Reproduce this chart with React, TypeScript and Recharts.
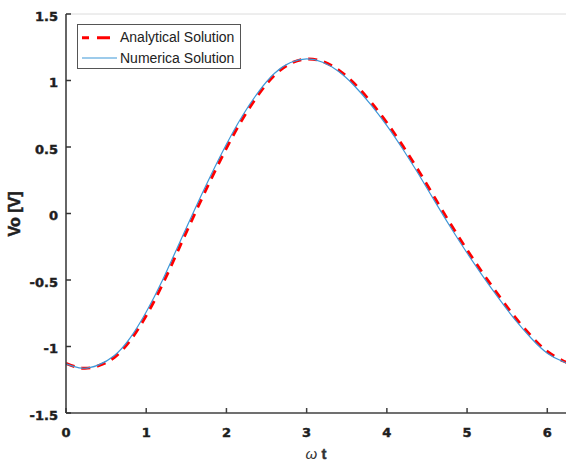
import React from 'react';
import { LineChart, Line, XAxis, YAxis, ReferenceLine, Legend } from 'recharts';

const wt = [0, 0.2, 0.4, 0.6, 0.8, 1.0, 1.2, 1.4, 1.6, 1.8, 2.0, 2.2, 2.4, 2.6, 2.8, 3.0, 3.2, 3.4, 3.6, 3.8, 4.0, 4.2, 4.4, 4.6, 4.8, 5.0, 5.2, 5.4, 5.6, 5.8, 6.0, 6.2, 6.2832];
const analytical = [-1.127, -1.163, -1.146, -1.083, -0.955, -0.767, -0.536, -0.273, -0.008, 0.249, 0.492, 0.71, 0.895, 1.041, 1.128, 1.162, 1.143, 1.078, 0.973, 0.838, 0.682, 0.506, 0.316, 0.114, -0.085, -0.274, -0.453, -0.622, -0.782, -0.922, -1.038, -1.109, -1.126];
const numerical = [-1.13, -1.163, -1.14, -1.07, -0.935, -0.74, -0.505, -0.24, 0.025, 0.28, 0.52, 0.735, 0.915, 1.055, 1.135, 1.162, 1.137, 1.067, 0.957, 0.819, 0.661, 0.483, 0.291, 0.089, -0.109, -0.297, -0.474, -0.642, -0.8, -0.938, -1.05, -1.115, -1.13];
const xTicks = [0, 1, 2, 3, 4, 5, 6];
const yTicks = [-1.5, -1, -0.5, 0, 0.5, 1, 1.5];
const seriesNames = ['Analytical Solution', 'Numerica Solution'];

const data = wt.map((x, i) => ({ wt: x, analytical: analytical[i], numerical: numerical[i] }));

const tickFont = '"DejaVu Sans", sans-serif';
const sansFont = '"Liberation Sans", Arial, sans-serif';

const XTick = (props: any) => {
  const { x, y, payload } = props;
  return (
    <text x={x} y={y + 24} textAnchor="middle" fontFamily={tickFont} fontWeight="bold" fontSize={13} fill="#1e1e1e" stroke="#1e1e1e" strokeWidth={0.45}>
      {payload.value}
    </text>
  );
};

const YTick = (props: any) => {
  const { x, y, payload } = props;
  return (
    <text x={x} y={y + 6.6} textAnchor="end" fontFamily={tickFont} fontWeight="bold" fontSize={13} fill="#1e1e1e" stroke="#1e1e1e" strokeWidth={0.45}>
      {payload.value}
    </text>
  );
};

const YLabel = () => (
  <text x={20} y={214} transform="rotate(-90 20 214)" textAnchor="middle" fontFamily={sansFont} fontWeight="bold" fontSize={16} fill="#1e1e1e" stroke="#1e1e1e" strokeWidth={0.5}>
    Vo [V]
  </text>
);

const XLabel = () => (
  <text x={316} y={459} textAnchor="middle" fontFamily={sansFont} fontSize={15} fill="#333">
    <tspan fontStyle="italic">ω</tspan>
    <tspan fontWeight="bold" stroke="#333" strokeWidth={0.4}> t</tspan>
  </text>
);

const renderLegend = () => (
  <svg width={164} height={45} style={{ display: 'block' }}>
    <rect x={0.5} y={0.5} width={163} height={44} fill="#fff" stroke="#555" strokeWidth={1} />
    <line x1={5} y1={13.7} x2={33} y2={13.7} stroke="#ff0000" strokeWidth={3} strokeDasharray="7 8 13 100" />
    <line x1={5} y1={34} x2={40} y2={34} stroke="#3d97d8" strokeWidth={1.2} />
    <text x={43} y={18.3} fontFamily={sansFont} fontSize={14} fill="#222">{seriesNames[0]}</text>
    <text x={43} y={39.3} fontFamily={sansFont} fontSize={14} fill="#222">{seriesNames[1]}</text>
  </svg>
);

export default function App() {
  return (
    <div style={{ position: 'absolute', left: 0, top: 0, width: 566, height: 464, overflow: 'hidden', background: '#fff' }}>
      <LineChart width={580} height={464} data={data} margin={{ top: 14, right: 10, bottom: 0, left: 0 }}>
        <ReferenceLine y={1.5} stroke="#dcdcdc" strokeWidth={1} ifOverflow="visible" />
        <XAxis
          type="number"
          dataKey="wt"
          domain={[0, 6.2832]}
          ticks={xTicks}
          allowDataOverflow
          height={51}
          tickSize={-5}
          tickMargin={5}
          stroke="#404040"
          strokeWidth={1.5}
          tick={<XTick />}
          label={<XLabel />}
        />
        <YAxis
          type="number"
          domain={[-1.5, 1.5]}
          ticks={yTicks}
          allowDataOverflow
          width={66}
          tickSize={-5}
          tickMargin={13}
          stroke="#333"
          strokeWidth={1.5}
          tick={<YTick />}
          label={<YLabel />}
        />
        <Legend
          layout="vertical"
          align="center"
          verticalAlign="middle"
          content={renderLegend}
          wrapperStyle={{ position: 'absolute', left: 77, top: 24, width: 164, height: 45 }}
        />
        <Line
          type="natural"
          dataKey="analytical"
          name={seriesNames[0]}
          stroke="#ff0000"
          strokeWidth={3}
          strokeDasharray="9 7"
          dot={false}
          isAnimationActive={false}
        />
        <Line
          type="natural"
          dataKey="numerical"
          name={seriesNames[1]}
          stroke="#3d97d8"
          strokeWidth={1.2}
          dot={false}
          isAnimationActive={false}
        />
      </LineChart>
    </div>
  );
}
